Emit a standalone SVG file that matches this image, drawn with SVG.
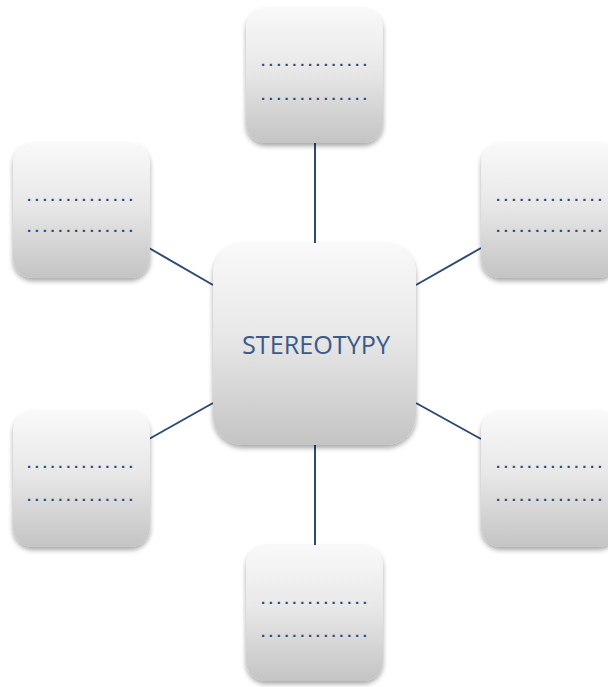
<svg xmlns="http://www.w3.org/2000/svg" width="608" height="687" viewBox="0 0 608 687">
<defs>
<linearGradient id="g" x1="0" y1="0" x2="0" y2="1">
<stop offset="0" stop-color="#f9f9f9"/>
<stop offset="0.45" stop-color="#e8e8e8"/>
<stop offset="1" stop-color="#c4c4c4"/>
</linearGradient>
<filter id="sh" x="-10%" y="-10%" width="120%" height="125%">
<feGaussianBlur in="SourceAlpha" stdDeviation="2.5"/>
<feOffset dy="3" result="b"/>
<feComponentTransfer><feFuncA type="linear" slope="0.35"/></feComponentTransfer>
<feMerge><feMergeNode/><feMergeNode in="SourceGraphic"/></feMerge>
</filter>
</defs>
<style>
.n{fill:url(#g);filter:url(#sh)}
.c{stroke:#2e4a74;stroke-width:2;fill:none}
.d{font-family:"Liberation Sans",Arial,sans-serif;font-size:15px;font-weight:bold;fill:#2a4a7c}
.t{font-family:"Open Sans","Liberation Sans",sans-serif;font-size:21px;fill:#3b5a8a;text-anchor:middle}
</style>
<rect width="608" height="687" fill="#ffffff"/>
<g id="connectors">
<line class="c" x1="315" y1="143" x2="315" y2="243"/>
<line class="c" x1="315" y1="445" x2="315" y2="545"/>
<line class="c" x1="149" y1="248" x2="213" y2="285"/>
<line class="c" x1="481" y1="248" x2="416" y2="285"/>
<line class="c" x1="149" y1="439" x2="213" y2="403"/>
<line class="c" x1="481" y1="439" x2="416" y2="403"/>
</g>
<g id="center">
<rect class="n" x="213" y="243" width="203" height="202" rx="30"/>
<text class="t" x="316" y="354" textLength="148" lengthAdjust="spacingAndGlyphs" style="font-size:25px">STEREOTYPY</text>
</g>
<g id="top">
<rect class="n" x="246" y="8" width="137" height="135" rx="20"/>
<text class="d" x="261" y="66" textLength="106" lengthAdjust="spacing">..............</text>
<text class="d" x="261" y="100" textLength="106" lengthAdjust="spacing">..............</text>
</g>
<g id="left-top">
<rect class="n" x="13" y="143" width="137" height="135" rx="20"/>
<text class="d" x="27" y="201" textLength="106" lengthAdjust="spacing">..............</text>
<text class="d" x="27" y="232" textLength="106" lengthAdjust="spacing">..............</text>
</g>
<g id="right-top">
<rect class="n" x="481" y="143" width="137" height="135" rx="20"/>
<text class="d" x="496" y="201" textLength="106" lengthAdjust="spacing">..............</text>
<text class="d" x="496" y="232" textLength="106" lengthAdjust="spacing">..............</text>
</g>
<g id="left-bottom">
<rect class="n" x="13" y="411" width="137" height="136" rx="20"/>
<text class="d" x="27" y="468" textLength="106" lengthAdjust="spacing">..............</text>
<text class="d" x="27" y="501" textLength="106" lengthAdjust="spacing">..............</text>
</g>
<g id="right-bottom">
<rect class="n" x="481" y="411" width="137" height="136" rx="20"/>
<text class="d" x="496" y="468" textLength="106" lengthAdjust="spacing">..............</text>
<text class="d" x="496" y="501" textLength="106" lengthAdjust="spacing">..............</text>
</g>
<g id="bottom">
<rect class="n" x="246" y="545" width="137" height="136" rx="20"/>
<text class="d" x="261" y="604" textLength="106" lengthAdjust="spacing">..............</text>
<text class="d" x="261" y="637" textLength="106" lengthAdjust="spacing">..............</text>
</g>
</svg>
